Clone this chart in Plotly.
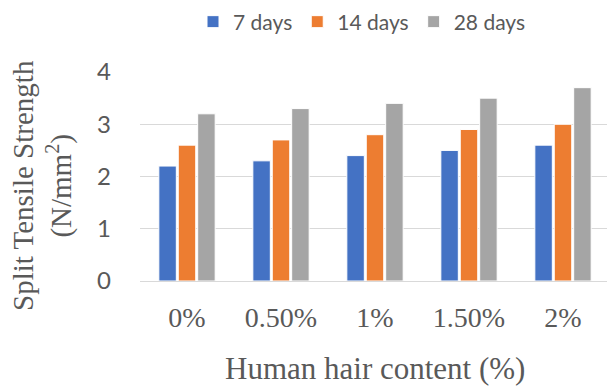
import plotly.graph_objects as go

# Split tensile strength of concrete with human hair fibre
categories = ["0%", "0.50%", "1%", "1.50%", "2%"]
series_names = ["7 days", "14 days", "28 days"]
strength_7 = [2.2, 2.3, 2.4, 2.5, 2.6]
strength_14 = [2.6, 2.7, 2.8, 2.9, 3.0]
strength_28 = [3.2, 3.3, 3.4, 3.5, 3.7]
colors = ["#4472C4", "#ED7D31", "#A5A5A5"]
y_ticks = [0, 1, 2, 3, 4]

TEXT = "#595959"
SERIF = "Liberation Serif, Times New Roman, serif"
SANS = "Lato, Open Sans, sans-serif"

fig = go.Figure()
for name, vals, col in zip(series_names, [strength_7, strength_14, strength_28], colors):
    fig.add_trace(go.Bar(
        x=categories, y=vals, name=name,
        marker=dict(color=col, line=dict(color="white", width=1)),
    ))

W, H = 607, 387
L, R, T, B = 140, 0, 72, 106
pw, ph = W - L - R, H - T - B

def px_x(x):
    return (x - L) / pw

def px_y(y):
    return (H - B - y) / ph

fig.update_layout(
    width=W, height=H,
    margin=dict(l=L, r=R, t=T, b=B),
    paper_bgcolor="white", plot_bgcolor="white",
    barmode="group", bargap=0.38, bargroupgap=0.1,
    showlegend=True,
    legend=dict(
        orientation="h", x=px_x(362), xanchor="center",
        y=px_y(22), yanchor="middle",
        font=dict(family=SANS, size=21, color=TEXT),
        bgcolor="rgba(0,0,0,0)",
    ),
    xaxis=dict(
        type="category", range=[-0.5, -0.5 + pw / 94],
        showgrid=False, showline=False, zeroline=False,
        ticks="", tickfont=dict(family=SERIF, size=28, color=TEXT),
        ticklabelstandoff=17,
    ),
    yaxis=dict(
        range=[0, 4], tickvals=y_ticks,
        showgrid=True, gridcolor="#D9D9D9", gridwidth=1.3,
        zeroline=True, zerolinecolor="#D9D9D9", zerolinewidth=1.3,
        showline=False, ticks="",
        tickfont=dict(family=SANS, size=24, color=TEXT),
        ticklabelstandoff=28,
    ),
    annotations=[
        dict(text="Human hair content (%)", xref="paper", yref="paper",
             x=px_x(375), y=px_y(368), xanchor="center", yanchor="middle",
             showarrow=False, font=dict(family=SERIF, size=31, color=TEXT)),
        dict(text="Split Tensile Strength<br>(N/mm<sup>2</sup>)",
             xref="paper", yref="paper", textangle=-90,
             x=px_x(42), y=px_y(186), xanchor="center", yanchor="middle",
             showarrow=False, font=dict(family=SERIF, size=29, color=TEXT)),
    ],
)

fig.write_html("out.html")
